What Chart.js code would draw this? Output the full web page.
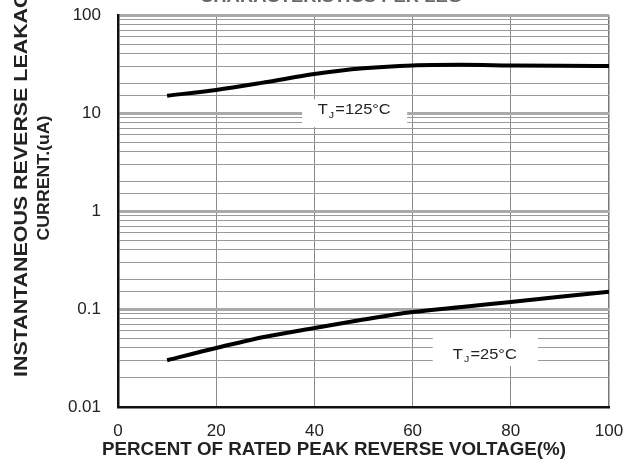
<!DOCTYPE html>
<html>
<head>
<meta charset="utf-8">
<script src="https://cdn.jsdelivr.net/npm/chart.js@4"></script>
<style>
  body { margin: 0; background: #fff; }
  #wrap { width: 625px; height: 461px; }
</style>
</head>
<body>
<div id="wrap"><canvas id="chart"></canvas></div>
<script>
// values
let voltagePct = [10, 20, 30, 40, 50, 60, 70, 80, 90, 100];
let leak125 = [15, 17.2, 20.6, 25, 28.6, 30.6, 31, 30.6, 30.3, 30.1];
let leak25 = [0.03, 0.04, 0.052, 0.064, 0.078, 0.093, 0.105, 0.118, 0.133, 0.15];

let xTicks = [0, 20, 40, 60, 80, 100];
let yDecades = [0.01, 0.1, 1, 10, 100];
let yDecadeLabels = ["0.01", "0.1", "1", "10", "100"];

let curveLabels = [
    {temp: "125°C", x: 48.1, y: 10.7, boxDy: 3},
    {temp: "25°C", x: 74.7, y: 0.034, boxDy: -3}
];

function decadeIndex(v) {
    return yDecades.findIndex(d => Math.abs(v / d - 1) < 1e-6);
}

// draw text squeezed/stretched to a given width
function fitText(ctx, text, cx, cy, width, font, color, rot) {
    ctx.save();
    ctx.font = font;
    ctx.fillStyle = color;
    ctx.textAlign = "center";
    ctx.textBaseline = "middle";
    ctx.translate(cx, cy);
    if (rot) ctx.rotate(rot);
    let w = ctx.measureText(text).width;
    ctx.scale(width / w, 1);
    ctx.fillText(text, 0, 0);
    ctx.restore();
}

let textPlugin = {
    id: "texts",
    beforeDatasetsDraw(chart) {
        let ctx = chart.ctx, xs = chart.scales.x, ys = chart.scales.y;
        let big = "14px 'Liberation Sans', Arial, sans-serif";
        let small = "9px 'Liberation Sans', Arial, sans-serif";
        curveLabels.forEach(l => {
            let cx = xs.getPixelForValue(l.x), cy = ys.getPixelForValue(l.y);
            ctx.fillStyle = "#fff";
            ctx.fillRect(cx - 52, cy + l.boxDy - 14, 105, 28);

            ctx.save();
            ctx.fillStyle = "#222";
            ctx.textBaseline = "middle";
            ctx.font = big;
            let wT = ctx.measureText("T").width;
            let rest = "=" + l.temp;
            let wR = ctx.measureText(rest).width;
            ctx.font = small;
            let wJ = ctx.measureText("J").width;
            let total = wT + wJ + wR + 2;
            let k = (l.temp.length > 4 ? 73 : 64) / total;
            ctx.translate(cx, cy);
            ctx.scale(k, 1);
            let x0 = -total / 2;
            ctx.font = big;
            ctx.fillText("T", x0, 0);
            ctx.font = small;
            ctx.fillText("J", x0 + wT + 1, 5);
            ctx.font = big;
            ctx.fillText(rest, x0 + wT + wJ + 2, 0);
            ctx.restore();
        });
    },
    afterDraw(chart) {
        let ctx = chart.ctx;
        let bold = s => "bold " + s + "px 'Liberation Sans', Arial, sans-serif";
        fitText(ctx, "CHARACTERISTICS PER LEG", 331, -2, 262, bold(16), "#666");
        fitText(ctx, "INSTANTANEOUS REVERSE LEAKAGE", 22, 177, 400, bold(18), "#222", -Math.PI / 2);
        fitText(ctx, "CURRENT.(uA)", 45, 178, 125, bold(16), "#222", -Math.PI / 2);
        fitText(ctx, "PERCENT OF RATED PEAK REVERSE VOLTAGE(%)", 334, 450, 464, bold(18), "#222");
    }
};

new Chart(document.getElementById("chart"), {
    type: "line",
    data: {
        datasets: [
            {
                label: "TJ=125°C",
                data: voltagePct.map((v, i) => ({x: v, y: leak125[i]})),
                borderColor: "#000",
                borderWidth: 4,
                pointRadius: 0,
                cubicInterpolationMode: "monotone"
            },
            {
                label: "TJ=25°C",
                data: voltagePct.map((v, i) => ({x: v, y: leak25[i]})),
                borderColor: "#000",
                borderWidth: 4,
                pointRadius: 0,
                cubicInterpolationMode: "monotone"
            }
        ]
    },
    options: {
        responsive: true,
        maintainAspectRatio: false,
        animation: false,
        layout: { padding: { top: 15, right: 16, left: 0, bottom: 0 } },
        plugins: { legend: { display: false }, tooltip: { enabled: false } },
        scales: {
            x: {
                type: "linear",
                min: 0,
                max: 100,
                afterBuildTicks: s => { s.ticks = xTicks.map(v => ({value: v})); },
                afterFit: s => { s.height = 54; s.paddingLeft = 0; s.paddingRight = 0; },
                ticks: {
                    color: "#222",
                    padding: 14,
                    font: { family: "'Liberation Sans', Arial, sans-serif", size: 17 }
                },
                grid: {
                    drawTicks: false,
                    color: c => c.tick.value === 0 ? "rgba(0,0,0,0)" : (c.tick.value === 100 ? "#777" : "#8a8a8a"),
                    lineWidth: c => c.tick.value === 100 ? 1.5 : 1
                },
                border: { color: "#111", width: 2.5 }
            },
            y: {
                type: "logarithmic",
                min: 0.01,
                max: 100,
                afterFit: s => { s.width = 118; s.paddingTop = 0; s.paddingBottom = 0; },
                ticks: {
                    autoSkip: false,
                    color: "#222",
                    padding: 17,
                    font: { family: "'Liberation Sans', Arial, sans-serif", size: 17 },
                    callback: v => {
                        let i = decadeIndex(v);
                        return i >= 0 ? yDecadeLabels[i] : "";
                    }
                },
                grid: {
                    drawTicks: false,
                    color: c => decadeIndex(c.tick.value) >= 0 ? "#aaa" : "#999",
                    lineWidth: c => {
                        let i = decadeIndex(c.tick.value);
                        if (i === 0) return 0;
                        return i > 0 ? 3 : 1;
                    }
                },
                border: { color: "#111", width: 2.5 }
            }
        }
    },
    plugins: [textPlugin]
});
</script>
</body>
</html>
